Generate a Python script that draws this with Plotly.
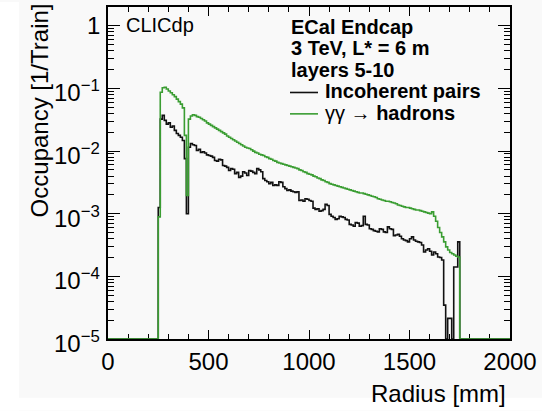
import numpy as np
import plotly.graph_objects as go

# ---------------- data ----------------
bin_width_mm = 10
first_bin_mm = 250
radius_min_mm, radius_max_mm = 0, 2000

# log10(occupancy per train), one value per 10 mm bin starting at 250 mm; None = empty bin
incoherent_log10 = [
    -2.90, -1.49, -1.43, -1.51, -1.57, -1.55, -1.62, -1.60, -1.67, -1.72,
    -1.75, -1.78, -1.83, -2.12, -3.00, -1.94, -1.88, -1.90, -1.91, -1.99,
    -1.97, -2.02, -2.01, -2.03, -2.06, -2.07, -2.08, -2.10, -2.15, -2.16,
    -2.13, -2.14, -2.23, -2.24, -2.26, -2.31, -2.28, -2.29, -2.36, -2.34,
    -2.42, -2.40, -2.33, -2.35, -2.39, -2.31, -2.32, -2.34, -2.36, -2.28,
    -2.30, -2.33, -2.44, -2.47, -2.49, -2.52, -2.50, -2.55, -2.54, -2.55,
    -2.49, -2.50, -2.57, -2.60, -2.63, -2.62, -2.64, -2.65, -2.66, -2.65,
    -2.79, -2.78, -2.80, -2.76, -2.77, -2.79, -2.80, -2.91, -2.93, -2.92,
    -2.96, -2.95, -2.93, -2.85, -2.87, -3.01, -3.04, -3.06, -3.09, -3.08,
    -3.04, -3.05, -3.06, -3.09, -3.10, -3.17, -3.18, -3.20, -3.14, -3.15,
    -3.20, -3.19, -3.04, -3.17, -3.18, -3.24, -3.25, -3.27, -3.28, -3.29,
    -3.24, -3.25, -3.29, -3.30, -3.21, -3.24, -3.25, -3.35, -3.34, -3.33,
    -3.36, -3.40, -3.42, -3.43, -3.45, -3.40, -3.37, -3.42, -3.44, -3.45,
    -3.46, -3.50, -3.61, -3.58, -3.56, -3.60, -3.66, -3.61, -3.64, -3.69,
    -3.70, -3.74, -4.46, None, -4.67, -4.67, None, -3.85, -3.85, -3.45,
]

gammagamma_log10 = [
    -3.05, -1.06, -0.99, -0.98, -1.01, -1.04, -1.07, -1.10, -1.13, -1.17,
    -1.21, -1.25, -1.31, -1.75, -2.71, -1.49, -1.44, -1.42, -1.43, -1.45,
    -1.46, -1.48, -1.50, -1.52, -1.55, -1.57, -1.59, -1.61, -1.63, -1.65,
    -1.67, -1.69, -1.71, -1.73, -1.76, -1.78, -1.80, -1.82, -1.84, -1.86,
    -1.88, -1.90, -1.92, -1.94, -1.95, -1.96, -1.98, -2.00, -2.02, -2.03,
    -2.05, -2.06, -2.07, -2.09, -2.10, -2.12, -2.13, -2.15, -2.16, -2.18,
    -2.19, -2.20, -2.21, -2.22, -2.23, -2.24, -2.25, -2.26, -2.27, -2.28,
    -2.30, -2.31, -2.33, -2.34, -2.36, -2.37, -2.38, -2.40, -2.41, -2.43,
    -2.44, -2.46, -2.47, -2.49, -2.50, -2.52, -2.53, -2.54, -2.55, -2.56,
    -2.57, -2.58, -2.59, -2.60, -2.61, -2.62, -2.63, -2.64, -2.65, -2.66,
    -2.67, -2.67, -2.68, -2.69, -2.70, -2.71, -2.72, -2.73, -2.74, -2.76,
    -2.77, -2.78, -2.79, -2.80, -2.80, -2.81, -2.82, -2.83, -2.84, -2.86,
    -2.87, -2.88, -2.89, -2.90, -2.90, -2.91, -2.92, -2.93, -2.94, -2.94,
    -2.95, -2.96, -2.97, -2.98, -2.99, -3.00, -2.97, -3.04, -3.12, -3.22,
    -3.30, -3.37, -3.45, -3.53, -3.58, -3.62, -3.64, -3.66, -3.68, -3.69,
]

series_names = ["Incoherent pairs", "γγ → hadrons"]
x_tick_values = [0, 500, 1000, 1500, 2000]
y_tick_exponents = [-5, -4, -3, -2, -1, 0]
y_tick_labels = ["10<sup>−5</sup>", "10<sup>−4</sup>", "10<sup>−3</sup>",
                 "10<sup>−2</sup>", "10<sup>−1</sup>", "1"]
header_lines = ["ECal Endcap", "3 TeV, L* = 6 m", "layers 5-10"]

# ---------------- build histogram step lines ----------------
edges = np.arange(radius_min_mm, radius_max_mm + bin_width_mm, bin_width_mm)
n_bins = len(edges) - 1
y_floor = 1e-5  # empty bins are drawn on the frame bottom (ROOT style)


def full_hist(log_vals):
    vals = [y_floor] * n_bins
    i0 = (first_bin_mm - radius_min_mm) // bin_width_mm
    for k, lv in enumerate(log_vals):
        vals[i0 + k] = y_floor if lv is None else 10.0 ** lv
    return vals + [vals[-1]]


black = "#111111"
green = "#3a9d32"
font_fam = "Liberation Sans, Arial, Helvetica, sans-serif"

fig = go.Figure()
fig.add_trace(go.Scatter(x=edges, y=full_hist(incoherent_log10), mode="lines",
                         line=dict(shape="hv", color=black, width=1.6),
                         name=series_names[0], showlegend=False))
fig.add_trace(go.Scatter(x=edges, y=full_hist(gammagamma_log10), mode="lines",
                         line=dict(shape="hv", color=green, width=1.6),
                         name=series_names[1], showlegend=False))

# ---------------- geometry ----------------
W, H = 542, 411
L, R, T, B = 108, 510, 5, 339
pw, ph = R - L, B - T


def px(x):
    return (x - L) / pw


def py(y):
    return (B - y) / ph


fig.update_layout(
    width=W, height=H,
    margin=dict(l=L, r=W - R, t=T, b=H - B),
    paper_bgcolor="#f9f9f9", plot_bgcolor="#f9f9f9",
    font=dict(family=font_fam, color="black"),
    showlegend=False,
)

fig.update_xaxes(
    range=[radius_min_mm, radius_max_mm], tickmode="array", tickvals=x_tick_values,
    ticks="inside", ticklen=9, tickwidth=1.3, tickcolor="black",
    minor=dict(dtick=100, ticks="inside", ticklen=5, tickwidth=1.1, tickcolor="black", showgrid=False),
    showline=True, linecolor="black", linewidth=1.6, mirror="allticks",
    showgrid=False, zeroline=False, tickfont=dict(size=24, family=font_fam),
    layer="below traces",
)

minor_vals = [m * 10.0 ** e for e in range(-5, 1) for m in range(2, 10)]
fig.update_yaxes(
    type="log", range=[-5, 0.3], tickmode="array",
    tickvals=[10.0 ** e for e in y_tick_exponents], ticktext=y_tick_labels,
    showticklabels=False,
    ticks="inside", ticklen=12, tickwidth=1.3, tickcolor="black",
    minor=dict(tickmode="array", tickvals=minor_vals, ticks="inside", ticklen=6,
               tickwidth=1.1, tickcolor="black", showgrid=False),
    showline=True, linecolor="black", linewidth=1.6, mirror="allticks",
    showgrid=False, zeroline=False,
    layer="below traces",
)

ann = []
# y tick labels (ROOT places the exponent labels slightly below the tick)
for e, lab in zip(y_tick_exponents, y_tick_labels):
    ann.append(dict(text=lab, x=px(102), y=e, xref="paper", yref="y",
                    xanchor="right", yanchor="middle", showarrow=False,
                    yshift=(-3 if e != 0 else 0),
                    font=dict(size=24, family=font_fam)))
# axis titles
ann.append(dict(text="Radius [mm]", x=px(508), y=py(394), xref="paper", yref="paper",
                xanchor="right", yanchor="middle", showarrow=False,
                font=dict(size=24, family=font_fam)))
ann.append(dict(text="Occupancy [1/Train]", x=px(39), y=py(109), xref="paper", yref="paper",
                xanchor="center", yanchor="middle", textangle=-90, showarrow=False,
                font=dict(size=24, family=font_fam)))
# CLICdp label
ann.append(dict(text="CLICdp", x=px(124), y=py(23), xref="paper", yref="paper",
                xanchor="left", yanchor="middle", showarrow=False,
                font=dict(size=20, family=font_fam)))
# header lines
for txt, yy in zip(header_lines, [25, 46.5, 68]):
    ann.append(dict(text="<b>%s</b>" % txt, x=px(289), y=py(yy), xref="paper", yref="paper",
                    xanchor="left", yanchor="middle", showarrow=False,
                    font=dict(size=20, family=font_fam)))
# legend entries
ann.append(dict(text="<b>%s</b>" % series_names[0], x=px(323), y=py(90), xref="paper", yref="paper",
                xanchor="left", yanchor="middle", showarrow=False,
                font=dict(size=20, family=font_fam)))
ann.append(dict(text="γγ → <b>hadrons</b>", x=px(323), y=py(111.5), xref="paper", yref="paper",
                xanchor="left", yanchor="middle", showarrow=False,
                font=dict(size=20, family=font_fam)))

shapes = [
    dict(type="line", xref="paper", yref="paper", x0=px(290), x1=px(318), y0=py(91), y1=py(91),
         line=dict(color=black, width=1.6)),
    dict(type="line", xref="paper", yref="paper", x0=px(290), x1=px(318), y0=py(112.5), y1=py(112.5),
         line=dict(color=green, width=1.6)),
    # white border strips of the original picture
    dict(type="rect", xref="paper", yref="paper", x0=px(0), x1=px(19), y0=py(H), y1=py(0),
         fillcolor="white", line=dict(width=0), layer="below"),
    dict(type="rect", xref="paper", yref="paper", x0=px(0), x1=px(W), y0=py(H), y1=py(398),
         fillcolor="white", line=dict(width=0), layer="below"),
]
fig.update_layout(annotations=ann, shapes=shapes)

fig.write_html("out.html")
